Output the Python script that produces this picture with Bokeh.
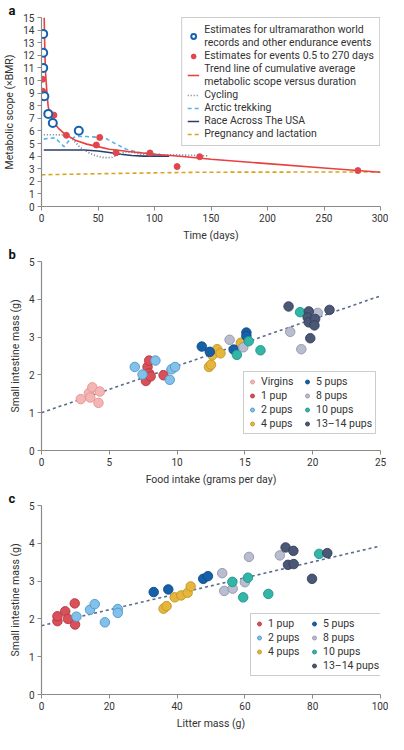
from bokeh.plotting import figure
from bokeh.models import Legend, LegendItem, Title, Range1d, FixedTicker
from bokeh.layouts import column
from bokeh.embed import file_html
from bokeh.resources import INLINE

FONT = "Roboto"
TXT = "#333333"
AXC = "#8a8a8a"

# ---------------- Panel a data ----------------
ultra_days = [1.5, 1.5, 1.5, 2.5, 6, 10, 33]
ultra_scope = [13.7, 12.2, 11.0, 8.75, 7.35, 6.63, 6.01]
events_days = [1, 1, 11, 22, 48.5, 51.5, 66, 96, 120, 140, 280]
events_scope = [10.1, 9.15, 7.25, 5.65, 4.88, 5.48, 4.27, 4.25, 3.17, 3.95, 2.85]
trend_days = [2.4, 2.8, 3.2, 3.8, 5, 6, 8, 10, 12, 15, 20, 30, 40, 50, 60, 75, 100, 125, 150, 200, 250, 300]
trend_scope = [15, 13, 11.6, 10.3, 8.8, 7.9, 7.2, 6.8, 6.55, 6.2, 5.8, 5.25, 4.95, 4.75, 4.55, 4.38, 4.15, 3.97, 3.75, 3.4, 3.06, 2.72]
cyc_days = [2, 12, 22, 28, 34, 41, 48, 55, 62, 68, 74, 80, 88, 100, 120, 147]
cyc_scope = [5.7, 5.7, 5.66, 5.3, 4.7, 4.3, 4.02, 3.88, 3.88, 4.1, 4.33, 4.3, 4.15, 4.1, 4.1, 4.02]
arc_days = [2, 6, 12, 16, 20, 24, 30, 40, 50, 57, 65, 75, 85, 95, 105]
arc_scope = [5.35, 5.4, 5.45, 5.1, 4.75, 5.2, 5.55, 5.55, 5.5, 5.4, 5.0, 4.55, 4.3, 4.2, 4.15]
race_days = [2, 38, 50, 60, 70, 80, 90, 113]
race_scope = [4.48, 4.48, 4.4, 4.28, 4.15, 4.05, 4.0, 4.0]
preg_days = [0, 50, 100, 140, 200, 300]
preg_scope = [2.52, 2.6, 2.67, 2.72, 2.73, 2.74]

a_xticks = [0, 50, 100, 150, 200, 250, 300]
a_yticks = list(range(0, 16))

# ---------------- Panel b data (food intake, g/day vs small intestine mass, g) ----------------
virgin_food = [2.9, 3.5, 3.6, 3.75, 4.2, 4.3]
virgin_si = [1.36, 1.52, 1.40, 1.67, 1.26, 1.56]
pup1_food = [7.7, 7.82, 7.94, 7.94, 8.05, 9.0]
pup1_si = [1.84, 2.21, 2.38, 2.04, 1.96, 1.99]
pup2_food = [6.88, 7.45, 8.4, 9.46, 9.6, 9.85]
pup2_si = [2.21, 2.01, 2.38, 1.87, 2.15, 2.21]
pup4_food = [12.35, 12.5, 12.6, 12.95, 13.2, 14.7]
pup4_si = [2.21, 2.27, 2.52, 2.68, 2.57, 2.85]
pup5_food = [11.82, 12.41, 14.17, 15.11, 15.11]
pup5_si = [2.75, 2.61, 2.67, 3.12, 3.03]
pup8_food = [13.87, 14.88, 18.34, 19.16, 20.37]
pup8_si = [2.93, 2.73, 3.14, 2.68, 3.64]
pup10_food = [14.41, 15.28, 16.15, 19.07]
pup10_si = [2.53, 2.89, 2.65, 3.66]
pup13_food = [18.22, 19.71, 19.63, 19.71, 20.18, 20.13, 19.82, 21.24]
pup13_si = [3.81, 3.68, 3.52, 3.39, 3.48, 3.31, 2.97, 3.72]
trend_b_x = [0, 25]
trend_b_y = [1.0, 4.09]
b_xticks = [0, 5, 10, 15, 20, 25]
b_yticks = [0, 1, 2, 3, 4, 5]

# ---------------- Panel c data (litter mass, g vs small intestine mass, g) ----------------
pup1_litter = [4.7, 4.7, 7.0, 7.8, 9.8, 9.9]
pup1_si_c = [1.94, 2.07, 2.2, 2.0, 2.41, 1.85]
pup2_litter = [10.3, 14.3, 15.7, 18.7, 22.5, 22.5]
pup2_si_c = [2.06, 2.24, 2.39, 1.91, 2.26, 2.16]
pup4_litter = [36.0, 36.9, 39.3, 41.2, 43.1, 44.0]
pup4_si_c = [2.27, 2.34, 2.57, 2.62, 2.69, 2.86]
pup5_litter = [33.1, 37.4, 47.7, 49.1]
pup5_si_c = [2.71, 2.78, 3.06, 3.13]
pup8_litter = [53.3, 53.9, 56.4, 60.0, 61.2, 70.3]
pup8_si_c = [3.21, 2.74, 2.8, 2.97, 3.64, 3.68]
pup10_litter = [56.3, 59.5, 60.9, 66.9, 81.9]
pup10_si_c = [2.98, 2.57, 3.09, 2.66, 3.72]
pup13_litter = [72.0, 74.3, 72.7, 74.4, 79.8, 84.3]
pup13_si_c = [3.89, 3.8, 3.43, 3.45, 3.06, 3.74]
trend_c_x = [0, 100]
trend_c_y = [1.82, 3.93]
c_xticks = [0, 20, 40, 60, 80, 100]
c_yticks = [0, 1, 2, 3, 4, 5]

group_labels = ["Virgins", "1 pup", "2 pups", "4 pups", "5 pups", "8 pups", "10 pups", "13\u201314 pups"]
group_fill = ["#f4b6b4", "#d9505a", "#82c1ea", "#e6b63a", "#1461a9", "#b9bdcf", "#33b6a8", "#4a5775"]
group_line = ["#e39390", "#b23a40", "#4f95c9", "#c2952b", "#0e4a86", "#9095aa", "#21918a", "#35405a"]

W = 388
LEFT = 35
RIGHT = 8
TOP = 15
BOTTOM = 37
FRAME_W = W - LEFT - RIGHT
H = 244


def style(p, letter, xlabel, ylabel, xticks, yticks):
    p.outline_line_color = None
    p.grid.visible = False
    p.background_fill_color = "white"
    p.border_fill_color = "white"
    p.xaxis.axis_label = xlabel
    p.yaxis.axis_label = ylabel
    p.xaxis.ticker = FixedTicker(ticks=xticks)
    p.yaxis.ticker = FixedTicker(ticks=yticks)
    for ax in (p.xaxis[0], p.yaxis[0]):
        ax.axis_line_color = AXC
        ax.axis_line_width = 1.2
        ax.major_tick_line_color = AXC
        ax.major_tick_line_width = 1
        ax.minor_tick_line_color = None
        ax.major_tick_out = 4
        ax.major_tick_in = 0
        ax.major_label_text_font = FONT
        ax.major_label_text_font_size = "10px"
        ax.major_label_text_color = TXT
        ax.axis_label_text_font = FONT
        ax.axis_label_text_font_size = "10.5px"
        ax.axis_label_text_font_style = "normal"
        ax.axis_label_text_color = TXT
        ax.major_label_standoff = 3
        ax.axis_label_standoff = 4
    p.title = Title(text=letter, align="left", offset=-LEFT + 2, standoff=0,
                    text_font=FONT, text_font_style="bold", text_font_size="13px",
                    text_color="#111111")


def make_fig(xr, yr):
    return figure(width=W, height=H, output_backend="svg", toolbar_location=None,
                  x_range=Range1d(*xr), y_range=Range1d(*yr),
                  min_border_left=LEFT, min_border_right=RIGHT, min_border_top=TOP,
                  min_border_bottom=BOTTOM)


# ---------------- Panel a ----------------
pa = make_fig((0, 300), (0, 15))
style(pa, "a", "Time (days)", "Metabolic scope (\u00d7BMR)", a_xticks, a_yticks)

r_preg = pa.line(preg_days, preg_scope, line_color="#d9a420", line_width=1.6, line_dash="4 3")
r_race = pa.line(race_days, race_scope, line_color="#2d3e6b", line_width=1.6)
r_arc = pa.line(arc_days, arc_scope, line_color="#5cb2e6", line_width=1.6, line_dash="4 3")
r_cyc = pa.line(cyc_days, cyc_scope, line_color="#6e7890", line_width=1.6, line_dash="1 2")
r_trend = pa.line(trend_days, trend_scope, line_color="#e8403e", line_width=1.6)
r_ev = pa.scatter(events_days, events_scope, size=6, fill_color="#e0474c", line_color="#e0474c")
r_ultra = pa.scatter(ultra_days, ultra_scope, size=8, fill_color="white", line_color="#1462ad", line_width=2)

leg_a = Legend(items=[
    LegendItem(label="Estimates for ultramarathon world\nrecords and other endurance events", renderers=[r_ultra]),
    LegendItem(label="Estimates for events 0.5 to 270 days", renderers=[r_ev]),
    LegendItem(label="Trend line of cumulative average\nmetabolic scope versus duration", renderers=[r_trend]),
    LegendItem(label="Cycling", renderers=[r_cyc]),
    LegendItem(label="Arctic trekking", renderers=[r_arc]),
    LegendItem(label="Race Across The USA", renderers=[r_race]),
    LegendItem(label="Pregnancy and lactation", renderers=[r_preg]),
], location="top_right")
pa.add_layout(leg_a)


def scatter_legend(p, groups):
    items = []
    for xs, ys, idx in groups:
        if xs is None:
            r = p.scatter([], [], size=8, fill_alpha=0, line_alpha=0)
            items.append(LegendItem(label=" ", renderers=[r]))
            continue
        r = p.scatter(xs, ys, size=9.5, fill_color=group_fill[idx], line_color=group_line[idx], line_width=0.9)
        items.append(LegendItem(label=group_labels[idx], renderers=[r]))
    return items


LEG_W = 133

# ---------------- Panel b ----------------
pb = make_fig((0, 25), (0, 5))
style(pb, "b", "Food intake (grams per day)", "Small intestine mass (g)", b_xticks, b_yticks)
pb.line(trend_b_x, trend_b_y, line_color="#5b6a8e", line_width=1.6, line_dash="3 3")
items_b = scatter_legend(pb, [
    (virgin_food, virgin_si, 0), (pup1_food, pup1_si, 1), (pup2_food, pup2_si, 2), (pup4_food, pup4_si, 3),
    (pup5_food, pup5_si, 4), (pup8_food, pup8_si, 5), (pup10_food, pup10_si, 6), (pup13_food, pup13_si, 7)])
leg_b = Legend(items=items_b, location=(FRAME_W - 10 - LEG_W, 16), nrows=4)
pb.add_layout(leg_b)

# ---------------- Panel c ----------------
pc = make_fig((0, 100), (0, 5))
style(pc, "c", "Litter mass (g)", "Small intestine mass (g)", c_xticks, c_yticks)
pc.line(trend_c_x, trend_c_y, line_color="#5b6a8e", line_width=1.6, line_dash="3 3")
items_c = scatter_legend(pc, [
    (pup1_litter, pup1_si_c, 1), (pup2_litter, pup2_si_c, 2), (pup4_litter, pup4_si_c, 3), (None, None, None),
    (pup5_litter, pup5_si_c, 4), (pup8_litter, pup8_si_c, 5), (pup10_litter, pup10_si_c, 6), (pup13_litter, pup13_si_c, 7)])
leg_c = Legend(items=items_c, location=(FRAME_W - 3 - LEG_W, 18), nrows=4)
pc.add_layout(leg_c)

for lg in (leg_a, leg_b, leg_c):
    lg.label_text_font = FONT
    lg.label_text_font_size = "10.5px"
    lg.label_text_color = TXT
    lg.border_line_color = "#9a9a9a"
    lg.border_line_width = 1
    lg.background_fill_color = "white"
    lg.background_fill_alpha = 1
    lg.margin = 0

leg_a.padding = 5
leg_a.spacing = 0
leg_a.label_standoff = 5
leg_a.glyph_width = 12
leg_a.glyph_height = 12
leg_a.label_height = 12
for lg in (leg_b, leg_c):
    lg.padding = 3
    lg.spacing = 1
    lg.label_standoff = 4
    lg.glyph_width = 10
    lg.glyph_height = 13
    lg.label_height = 13
    lg.label_width = 40

layout = column(pa, pb, pc, spacing=0)
open("out.html", "w").write(file_html(layout, INLINE))
